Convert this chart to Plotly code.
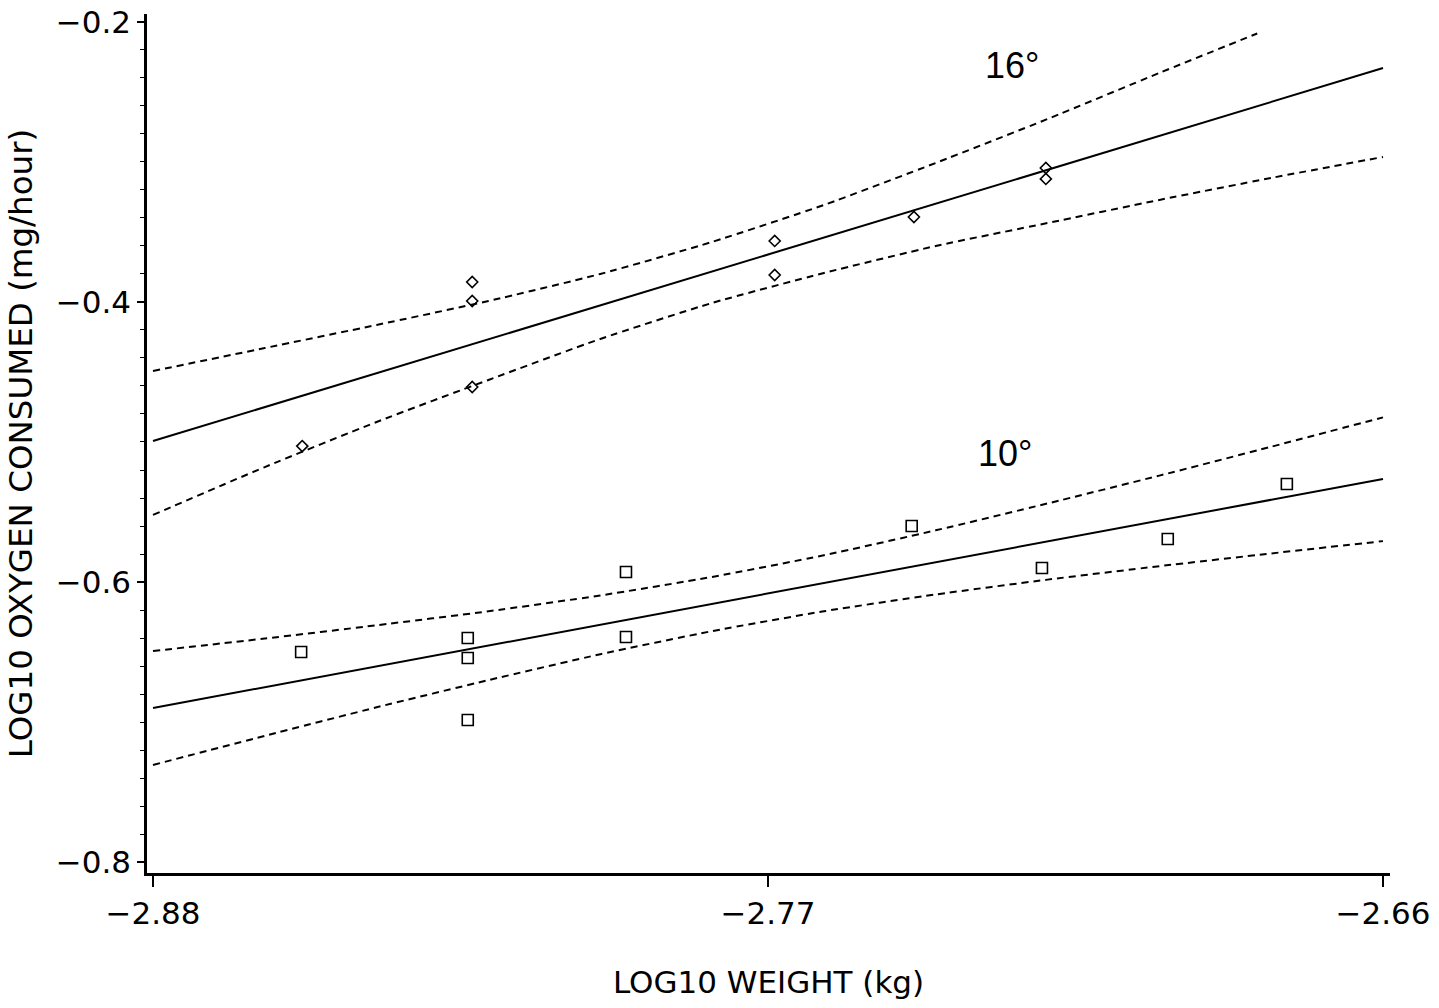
import plotly.graph_objects as go

# ---- data ----
x16 = [-2.8533, -2.8229, -2.8229, -2.8229, -2.7688, -2.7688, -2.7439, -2.7203, -2.7203]
y16 = [-0.5029, -0.3857, -0.3993, -0.4607, -0.3564, -0.3807, -0.3393, -0.3043, -0.3121]

x10 = [-2.8535, -2.8237, -2.8237, -2.8237, -2.7954, -2.7954, -2.7443, -2.7210, -2.6985, -2.6772]
y10 = [-0.6500, -0.6400, -0.6543, -0.6986, -0.5929, -0.6393, -0.5600, -0.5900, -0.5693, -0.5300]

fit_x = [-2.88, -2.66]
fit16_y = [-0.4993, -0.2329]
fit10_y = [-0.6900, -0.5264]

band_x = [-2.88, -2.86, -2.84, -2.82, -2.80, -2.78, -2.76, -2.74, -2.72, -2.70, -2.68, -2.66]
upper16_x = [-2.88, -2.86, -2.84, -2.82, -2.80, -2.78, -2.76, -2.74, -2.72, -2.70, -2.6825]
upper16_y = [-0.4493, -0.4329, -0.4164, -0.3993, -0.3800, -0.3571, -0.3307, -0.3007, -0.2693, -0.2364, -0.2082]
lower16_y = [-0.5521, -0.5179, -0.4857, -0.4557, -0.4264, -0.4007, -0.3793, -0.3600, -0.3436, -0.3271, -0.3114, -0.2964]
upper10_y = [-0.6493, -0.6404, -0.6309, -0.6209, -0.6096, -0.5964, -0.5809, -0.5631, -0.5439, -0.5240, -0.5034, -0.4824]
lower10_y = [-0.7307, -0.7099, -0.6895, -0.6701, -0.6516, -0.6351, -0.6209, -0.6089, -0.5983, -0.5887, -0.5796, -0.5708]

x_ticks = [-2.88, -2.77, -2.66]
y_ticks = [-0.2, -0.4, -0.6, -0.8]
labels = [("16°", -2.7264, -0.2314), ("10°", -2.7276, -0.5079)]

BLACK = "black"
fig = go.Figure()

dash = dict(color=BLACK, width=2, dash="7px,5px")
solid = dict(color=BLACK, width=2)

fig.add_trace(go.Scatter(x=upper16_x, y=upper16_y, mode="lines", line=dict(**dash, shape="spline", smoothing=0.6)))
fig.add_trace(go.Scatter(x=band_x, y=lower16_y, mode="lines", line=dict(**dash, shape="spline", smoothing=0.6)))
fig.add_trace(go.Scatter(x=fit_x, y=fit16_y, mode="lines", line=solid))
fig.add_trace(go.Scatter(x=band_x, y=upper10_y, mode="lines", line=dict(**dash, shape="spline", smoothing=0.6)))
fig.add_trace(go.Scatter(x=band_x, y=lower10_y, mode="lines", line=dict(**dash, shape="spline", smoothing=0.6)))
fig.add_trace(go.Scatter(x=fit_x, y=fit10_y, mode="lines", line=solid))

fig.add_trace(go.Scatter(x=x16, y=y16, mode="markers",
                         marker=dict(symbol="diamond-open", size=8.5, color=BLACK, line=dict(color=BLACK, width=1.6))))
fig.add_trace(go.Scatter(x=x10, y=y10, mode="markers",
                         marker=dict(symbol="square-open", size=11, color=BLACK, line=dict(color=BLACK, width=1.6))))

for txt, lx, ly in labels:
    fig.add_annotation(x=lx, y=ly, text=txt, showarrow=False,
                       font=dict(family="Liberation Sans, Arial", size=36, color=BLACK),
                       xanchor="center", yanchor="middle")

tickfont = dict(family="DejaVu Sans", size=31, color=BLACK)

fig.update_layout(
    width=1439, height=1008,
    margin=dict(l=147, r=49, t=14, b=135, autoexpand=False),
    paper_bgcolor="white", plot_bgcolor="white",
    showlegend=False,
    xaxis=dict(range=[-2.88107, -2.65875], tickvals=x_ticks, ticktext=["−2.88", "−2.77", "−2.66"],
               automargin=False,
               showgrid=False, zeroline=False, showline=True, linecolor=BLACK, linewidth=2.5,
               ticks="outside", ticklen=11, tickwidth=1.5, tickcolor=BLACK, tickfont=tickfont,
               title=dict(text="LOG10 WEIGHT (kg)", font=dict(family="DejaVu Sans", size=31, color=BLACK), standoff=42)),
    yaxis=dict(range=[-0.80786, -0.19429], tickvals=y_ticks, ticktext=["−0.2", "−0.4", "−0.6", "−0.8"],
               automargin=False,
               showgrid=False, zeroline=False, showline=True, linecolor=BLACK, linewidth=2.5,
               ticks="outside", ticklen=7, tickwidth=1.5, tickcolor=BLACK, tickfont=tickfont,
               minor=dict(tickvals=[round(-0.8 + 0.02 * i, 2) for i in range(31)], ticks="outside", ticklen=4, tickwidth=1.3, tickcolor=BLACK, showgrid=False),
               title=dict(text="LOG10 OXYGEN CONSUMED (mg/hour)", font=dict(family="DejaVu Sans", size=32.5, color=BLACK), standoff=14)),
)

fig.write_html("out.html")
